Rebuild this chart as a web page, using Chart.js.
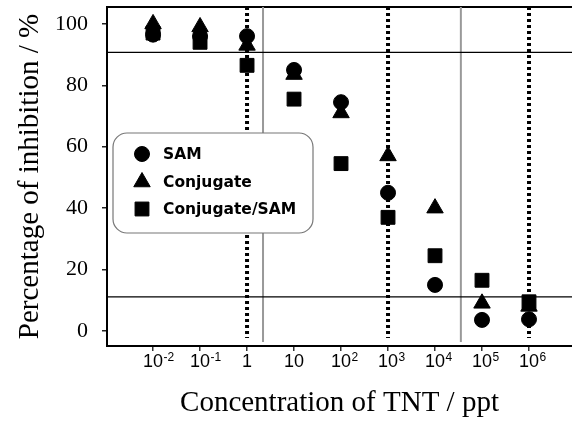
<!DOCTYPE html>
<html>
<head>
<meta charset="utf-8">
<script src="https://cdn.jsdelivr.net/npm/chart.js@4/dist/chart.umd.min.js"></script>
<style>
  html, body { margin: 0; padding: 0; background: #fff; overflow: hidden; width: 572px; height: 421px; }
  #wrap { width: 572px; height: 421px; overflow: hidden; }
  canvas { display: block; }
</style>
</head>
<body>
<div id="wrap"><canvas id="c" width="572" height="421"></canvas></div>
<script>
// ---- data ----
const exponents = [-2, -1, 0, 1, 2, 3, 4, 5, 6];          // log10(TNT / ppt)
const samValues = [96.5, 96, 96, 85, 74.5, 45, 15, 3.6, 3.8];
const conjugateValues = [100, 99, 93, 83.5, 71, 57, 40, 9, 8];
const conjugateSamValues = [97, 94, 86.5, 75.5, 54.5, 37, 24.5, 16.5, 9.5];
const seriesLabels = ['SAM', 'Conjugate', 'Conjugate/SAM'];

const xTickValues = [-2, -1, 0, 1, 2, 3, 4, 5, 6];
const xTickLabels = [['10','-2'], ['10','-1'], ['1',''], ['10',''], ['10','2'], ['10','3'], ['10','4'], ['10','5'], ['10','6']];
const yTickValues = [0, 20, 40, 60, 80, 100];

const hRefLines = [90.7, 11.1];        // horizontal thin black lines (%)
const grayVLines = [0.34, 4.55];       // vertical solid gray lines (log10 ppt)
const dottedVLines = [0, 3, 6];        // vertical dotted lines (log10 ppt)
const xRange = [-2.98, 6.915];
const yRange = [-4.9, 105.5];
const dottedBottom = -2.3;
const grayBottom = -3.6;

const xTitle = 'Concentration of TNT / ppt';
const yTitle = 'Percentage of inhibition / %';

// ---- build datasets ----
function pts(vals) { return exponents.map((e, i) => ({x: e, y: vals[i]})); }
const markerDs = (label, vals, style, r) => ({
  label, data: pts(vals), pointStyle: style, pointRadius: r, pointHoverRadius: r,
  backgroundColor: '#000', borderColor: '#000', pointBorderWidth: 1, showLine: false, order: 0
});
const datasets = [
  markerDs(seriesLabels[0], samValues, 'circle', 7.5),
  markerDs(seriesLabels[1], conjugateValues, 'triangle', 9.5),
  markerDs(seriesLabels[2], conjugateSamValues, 'rect', 9.8),
];
hRefLines.forEach(v => datasets.push({
  label: '', data: [{x: xRange[0], y: v}, {x: xRange[1], y: v}], showLine: true,
  borderColor: '#000', borderWidth: 1.2, pointRadius: 0, order: 5
}));
grayVLines.forEach(v => datasets.push({
  label: '', data: [{x: v, y: yRange[1]}, {x: v, y: grayBottom}], showLine: true,
  borderColor: '#999', borderWidth: 2, pointRadius: 0, order: 6
}));
dottedVLines.forEach(v => datasets.push({
  label: '', data: [{x: v, y: yRange[1]}, {x: v, y: dottedBottom}], showLine: true,
  borderColor: '#000', borderWidth: 4, borderDash: [3, 3], borderCapStyle: 'butt', pointRadius: 0, order: 4
}));

// ---- plugins ----
const framePlugin = {
  id: 'frame',
  beforeDatasetsDraw(chart) {
    const {ctx, chartArea: a} = chart;
    ctx.save();
    ctx.strokeStyle = '#000'; ctx.lineWidth = 2;
    ctx.beginPath(); ctx.moveTo(a.left, a.top); ctx.lineTo(a.right, a.top); ctx.stroke();
    ctx.restore();
  }
};

const xLabelPlugin = {
  id: 'xlabels',
  afterDraw(chart) {
    const {ctx} = chart;
    const sx = chart.scales.x;
    const baseY = sx.top + 21;
    ctx.save();
    ctx.fillStyle = '#000';
    ctx.textBaseline = 'alphabetic';
    xTickValues.forEach((v, i) => {
      const [base, sup] = xTickLabels[i];
      const px = sx.getPixelForValue(v);
      ctx.font = '18px "Liberation Sans", Arial, sans-serif';
      const w = ctx.measureText(base).width;
      ctx.textAlign = 'left';
      ctx.fillText(base, px - w / 2, baseY);
      if (sup) {
        ctx.font = '12px "Liberation Sans", Arial, sans-serif';
        ctx.fillText(sup, px + w / 2 + 0.5, baseY - 6);
      }
    });
    ctx.restore();
  }
};

const legendPlugin = {
  id: 'boxLegend',
  afterDatasetsDraw(chart) {
    const {ctx} = chart;
    const bx = 113, by = 133, bw = 200, bh = 100, br = 14;
    ctx.save();
    ctx.beginPath();
    ctx.roundRect(bx, by, bw, bh, br);
    ctx.fillStyle = '#fff'; ctx.fill();
    ctx.strokeStyle = '#777'; ctx.lineWidth = 1.2; ctx.stroke();
    const rows = [154, 182, 209];
    for (let i = 0; i < 3; i++) {
      const ds = chart.data.datasets[i];
      ctx.fillStyle = '#000'; ctx.strokeStyle = '#000'; ctx.lineWidth = 1;
      Chart.helpers.drawPoint(ctx, {pointStyle: ds.pointStyle, radius: ds.pointRadius, borderWidth: 1, rotation: 0}, 142, rows[i]);
      ctx.font = 'bold 15.5px "DejaVu Sans", sans-serif';
      ctx.textAlign = 'left'; ctx.textBaseline = 'middle';
      ctx.fillText(ds.label, 163, rows[i] + 1);
    }
    ctx.restore();
  }
};

// ---- chart ----
new Chart(document.getElementById('c'), {
  type: 'scatter',
  data: {datasets},
  options: {
    responsive: false,
    animation: false,
    events: [],
    layout: {autoPadding: false, padding: {top: 7, right: 0, left: 0, bottom: 0}},
    plugins: {legend: {display: false}, tooltip: {enabled: false}},
    scales: {
      x: {
        type: 'linear', position: 'bottom', min: xRange[0], max: xRange[1],
        afterBuildTicks: s => { s.ticks = xTickValues.map(v => ({value: v})); },
        ticks: {display: false},
        grid: {drawOnChartArea: false, drawTicks: true, tickLength: 5, color: '#333', lineWidth: 1.5},
        border: {display: true, color: '#000', width: 2},
        title: {display: true, text: xTitle, color: '#000',
          font: {family: '"Liberation Serif", "Times New Roman", serif', size: 29},
          padding: {top: 0, bottom: 0}},
        afterFit: s => { s.height = 75; s.paddingLeft = 0; s.paddingRight = 0; s.paddingTop = 0; s.paddingBottom = 0; }
      },
      y: {
        type: 'linear', position: 'left', min: yRange[0], max: yRange[1],
        afterBuildTicks: s => { s.ticks = yTickValues.map(v => ({value: v})); },
        ticks: {color: '#000', padding: 14,
          font: {family: '"Liberation Serif", "Times New Roman", serif', size: 22}},
        grid: {drawOnChartArea: false, drawTicks: true, tickLength: 5, color: '#222', lineWidth: 1.5},
        border: {display: true, color: '#000', width: 2},
        title: {display: true, text: yTitle, color: '#000',
          font: {family: '"Liberation Serif", "Times New Roman", serif', size: 29},
          padding: {top: 13, bottom: 0}},
        afterFit: s => { s.width = 107; s.paddingTop = 0; s.paddingBottom = 0; s.paddingLeft = 0; s.paddingRight = 0; }
      }
    }
  },
  plugins: [framePlugin, xLabelPlugin, legendPlugin]
});
</script>
</body>
</html>
